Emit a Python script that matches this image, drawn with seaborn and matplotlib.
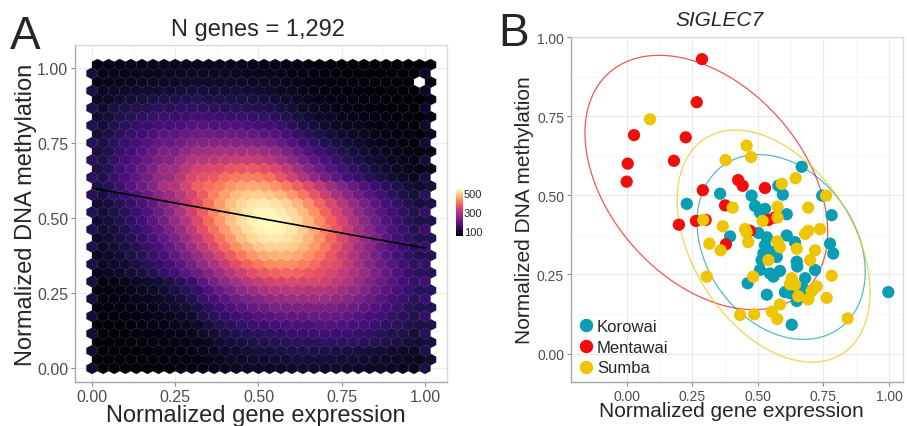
import numpy as np
import pandas as pd
import matplotlib
matplotlib.use("Agg")
import matplotlib.pyplot as plt
import seaborn as sns

sns.set_theme(style="whitegrid")
plt.rcParams['font.family'] = ['Liberation Sans', 'DejaVu Sans']

# ---- panel A: counts per hexagon, bottom row first (31 hexes per row) ----
hex_rows = [
    [86,47,49,50,50,52,54,56,58,59,63,67,71,75,78,80,82,84,85,86,87,87,86,85,83,81,79,77,74,71,104],
    [48,49,50,51,53,55,57,59,61,63,68,74,79,83,86,89,92,94,96,96,96,96,94,92,89,86,83,80,77,73,90],
    [89,47,48,49,51,54,55,58,60,62,70,78,84,89,94,98,101,104,106,108,108,107,105,103,100,96,92,87,83,79,111],
    [55,48,50,52,54,57,59,62,65,69,79,89,97,102,108,112,117,120,122,123,128,130,129,128,124,118,112,105,99,93,105],
    [91,49,51,54,55,58,60,65,68,72,85,95,105,112,119,126,132,136,139,141,147,149,147,146,141,133,125,117,109,101,125],
    [58,52,54,56,59,62,66,71,77,83,100,113,124,133,142,150,157,162,164,164,170,170,165,160,153,143,132,122,113,104,112],
    [94,53,55,58,60,65,69,75,81,88,108,123,136,148,160,171,180,186,190,191,197,199,194,188,177,163,151,137,125,115,134],
    [62,55,58,62,66,71,77,85,94,104,128,148,165,180,193,205,215,221,223,221,226,221,212,203,190,173,155,140,127,115,120],
    [98,56,59,63,68,73,81,89,99,111,140,163,182,201,219,236,248,255,259,258,265,261,250,237,220,199,178,159,143,127,145],
    [66,60,64,69,76,83,93,105,118,134,170,198,223,246,264,281,293,298,298,292,294,285,268,251,229,205,181,159,140,125,128],
    [102,60,65,71,77,86,96,109,124,143,184,216,245,270,295,315,331,339,342,336,338,328,309,288,263,232,205,179,156,137,150],
    [71,77,83,92,103,117,133,154,178,203,235,264,295,324,350,369,380,385,380,366,355,335,310,285,255,225,195,168,146,127,130],
    [106,77,84,93,104,118,136,158,183,214,247,281,316,350,379,404,420,427,424,410,389,361,348,310,272,237,204,176,151,131,144],
    [77,84,93,105,119,138,161,188,220,255,294,333,370,404,433,454,463,463,452,430,401,366,328,289,252,216,184,158,135,117,123],
    [112,83,93,105,119,139,162,190,224,262,303,347,388,427,459,485,499,501,491,469,438,401,360,318,275,237,201,172,146,125,144],
    [83,92,103,118,136,161,189,224,262,305,350,395,436,475,503,521,525,517,499,467,430,386,343,297,255,217,184,156,133,115,121],
    [116,90,101,116,134,158,186,221,259,303,350,395,439,481,513,533,541,537,521,493,454,408,362,316,272,233,195,167,141,121,141],
    [88,97,112,130,152,180,213,252,294,341,388,433,477,511,533,545,543,529,505,467,423,377,331,284,243,205,173,147,126,109,116],
    [120,95,108,124,146,171,202,240,280,326,372,418,459,497,523,537,539,527,505,471,430,383,338,292,250,212,179,152,130,112,134],
    [92,103,118,138,162,190,226,264,306,353,397,438,475,505,521,525,517,497,467,428,384,340,295,254,216,183,155,133,115,101,109],
    [125,102,128,147,173,201,237,262,295,333,373,412,444,473,489,493,485,465,436,402,362,321,279,241,205,176,149,128,111,98,123],
    [107,120,150,174,203,236,278,293,334,377,395,408,433,448,454,448,433,408,377,343,304,266,232,198,170,146,126,110,97,87,99],
    [127,113,140,161,187,217,251,265,301,338,356,368,390,405,410,407,395,363,328,286,247,213,186,160,139,119,104,91,82,73,100],
    [107,120,149,169,196,223,257,267,297,329,340,345,359,365,364,354,338,306,272,234,203,173,150,131,114,99,88,79,71,65,80],
    [125,111,136,154,175,199,226,234,262,286,296,300,313,319,319,312,299,272,243,212,184,158,139,122,108,95,85,77,70,65,95],
    [103,114,139,156,175,198,221,226,248,267,270,275,274,275,270,260,247,222,196,170,148,128,114,101,90,82,74,68,63,59,76],
    [122,105,126,140,155,173,192,194,210,227,230,235,234,236,232,225,214,194,173,152,132,116,105,94,86,77,71,66,61,58,90],
    [97,106,126,138,152,167,182,182,195,205,204,199,201,199,193,185,175,159,141,123,109,97,88,81,74,68,64,60,57,54,72],
    [116,97,114,124,134,145,157,155,165,175,173,169,170,169,166,160,152,139,125,111,99,88,82,76,71,65,61,59,56,54,85],
    [88,96,112,120,128,138,146,142,150,154,150,145,144,142,138,133,126,114,104,93,84,77,71,67,63,60,57,54,53,50,70],
    [111,88,101,107,114,121,128,123,129,132,128,125,124,122,120,116,111,103,94,86,77,71,67,64,60,58,55,53,51,49,82],
    [78,82,90,95,99,105,109,112,116,118,112,108,107,105,103,99,95,89,82,75,66,64,60,58,56,54,52,50,48,47,68],
    [105,76,80,83,86,89,92,95,97,99,98,96,95,94,92,89,86,81,76,70,63,60,58,56,54,52,50,48,48,46,80],
    [68,71,73,76,78,80,82,84,85,86,86,85,85,83,82,80,77,75,70,66,61,59,58,56,54,52,50,50,49,0,66],
    [100,67,68,70,72,74,76,77,78,79,79,79,78,77,76,74,72,70,66,63,59,57,55,54,52,50,50,49,48,47,80],
    [64,65,67,68,69,70,71,72,73,73,73,72,72,71,69,68,67,66,62,59,55,53,52,50,50,49,48,47,46,46,64],
]
fit_intercept = 0.60
fit_slope = -0.20
n_genes = "1,292"

# ---- panel B: SIGLEC7, normalized expression vs methylation ----
korowai_x = [0.489,0.527,0.610,0.781,0.394,0.502,0.534,0.527,0.521,0.514,0.553,0.572,0.610,0.641,
             0.775,0.787,0.648,0.650,0.508,0.546,0.584,0.559,0.718,0.680,0.461,0.534,0.603,0.622,
             0.648,0.673,0.997,0.629,0.667,0.356,0.476,0.578,0.595,0.745,0.229,0.508]
korowai_y = [0.466,0.457,0.440,0.437,0.370,0.381,0.367,0.342,0.316,0.295,0.321,0.305,0.373,0.352,
             0.347,0.316,0.290,0.275,0.264,0.253,0.261,0.243,0.264,0.238,0.222,0.186,0.194,0.191,
             0.166,0.205,0.194,0.091,0.590,0.505,0.499,0.530,0.502,0.499,0.473,0.445]
mentawai_x = [0.287,0.028,0.004,0.000,0.225,0.180,0.267,0.290,0.425,0.442,0.527,0.199,0.264,0.301,
              0.375,0.540,0.378,0.470,0.565]
mentawai_y = [0.930,0.690,0.600,0.543,0.683,0.609,0.794,0.516,0.548,0.530,0.523,0.407,0.419,0.422,
              0.468,0.422,0.345,0.388,0.430]
sumba_x = [0.404,0.575,0.575,0.518,0.692,0.366,0.451,0.457,0.463,0.315,0.358,0.574,0.584,0.680,
           0.692,0.737,0.648,0.718,0.699,0.540,0.305,0.482,0.629,0.622,0.641,0.781,0.724,0.705,
           0.692,0.762,0.584,0.654,0.432,0.486,0.553,0.574,0.842,0.457,0.474,0.377,0.644,0.591,
           0.760,0.292,0.089]
sumba_y = [0.461,0.464,0.430,0.419,0.461,0.402,0.393,0.383,0.352,0.347,0.326,0.354,0.336,0.378,
           0.388,0.393,0.331,0.326,0.295,0.295,0.243,0.243,0.238,0.219,0.217,0.246,0.212,0.197,
           0.171,0.176,0.155,0.181,0.122,0.124,0.132,0.109,0.111,0.657,0.621,0.611,0.554,0.536,
           0.499,0.422,0.740]
groups = ["Korowai", "Mentawai", "Sumba"]
group_colors = {"Korowai": "#0A9DB4", "Mentawai": "#F20D0D", "Sumba": "#EDC500"}
ellipse_scale = {"Korowai": 2.45, "Mentawai": 2.67, "Sumba": 2.35}

df_b = pd.concat([
    pd.DataFrame({"expr": korowai_x, "meth": korowai_y, "pop": "Korowai"}),
    pd.DataFrame({"expr": mentawai_x, "meth": mentawai_y, "pop": "Mentawai"}),
    pd.DataFrame({"expr": sumba_x, "meth": sumba_y, "pop": "Sumba"}),
], ignore_index=True)

# hex lattice (30 bins over 0..1)
hex_w = 1.0 / 30
row_h = hex_w * np.sqrt(3) / 2
hx, hy, hc = [], [], []
for k, row in enumerate(hex_rows):
    off = 0.5 if k % 2 else 0.0
    for i, c in enumerate(row):
        if c > 0:
            hx.append((i + off) * hex_w)
            hy.append(k * row_h)
            hc.append(c)

fig = plt.figure(figsize=(9.07, 4.27), dpi=100)
axA = fig.add_axes([0.0827, 0.1030, 0.4101, 0.7892])
axB = fig.add_axes([0.6296, 0.1030, 0.3660, 0.8080])
cax = fig.add_axes([0.5028, 0.4457, 0.0072, 0.1094])

ticks = [0, 0.25, 0.5, 0.75, 1.0]
for ax, tsize in ((axA, 11.5), (axB, 10)):
    ax.set_facecolor("white")
    ax.set_xticks(ticks)
    ax.set_yticks(ticks)
    ax.set_xticklabels(["%.2f" % t for t in ticks])
    ax.set_yticklabels(["%.2f" % t for t in ticks])
    ax.set_xticks([0.125, 0.375, 0.625, 0.875], minor=True)
    ax.set_yticks([0.125, 0.375, 0.625, 0.875], minor=True)
    ax.grid(which="major", color="#EBEBEB", lw=0.8)
    ax.grid(which="minor", color="#F4F4F4", lw=0.5)
    ax.set_axisbelow(True)
    ax.tick_params(which="major", labelsize=tsize, labelcolor="#4D4D4D", color="#8C8C8C",
                   length=3, width=0.8, pad=2, bottom=True, left=True)
    ax.tick_params(which="minor", length=0)
    for s in ("top", "right"):
        ax.spines[s].set_color("#D9D9D9")
        ax.spines[s].set_linewidth(1.0)
    for s in ("left", "bottom"):
        ax.spines[s].set_color("#A6A6A6")
        ax.spines[s].set_linewidth(1.0)

# ---- panel A ----
hb = axA.hexbin(hx, hy, C=hc, gridsize=(31, 18), extent=(0, 31 * hex_w, 0, 36 * row_h),
                reduce_C_function=np.sum, cmap="magma", vmin=45, vmax=545,
                linewidths=0.15, edgecolors="face")
xl = np.array([0.0, 1.0])
axA.plot(xl, fit_intercept + fit_slope * xl, color="black", lw=1.2)
axA.set_xlim(-0.051, 1.066)
axA.set_ylim(-0.046, 1.076)

cb = fig.colorbar(hb, cax=cax, ticks=[100, 300, 500])
cb.outline.set_visible(False)
cb.ax.tick_params(length=0, labelsize=8, pad=1)

# ---- panel B ----
for g in groups:
    d = df_b[df_b["pop"] == g]
    pts = d[["expr", "meth"]].to_numpy()
    mu = pts.mean(axis=0)
    L = np.linalg.cholesky(np.cov(pts.T))
    t = np.linspace(0, 2 * np.pi, 200)
    circ = np.vstack([np.cos(t), np.sin(t)]) * ellipse_scale[g]
    ell = (L @ circ).T + mu
    axB.plot(ell[:, 0], ell[:, 1], color=group_colors[g], lw=0.9, alpha=0.7, zorder=2)

sns.scatterplot(data=df_b, x="expr", y="meth", hue="pop", palette=group_colors,
                s=78, linewidth=0, alpha=1, ax=axB, zorder=3)
axB.set_xlim(-0.212, 1.053)
axB.set_ylim(-0.09, 1.0)
axB.set_xlabel("")
axB.set_ylabel("")
axB.legend(loc="lower left", frameon=False, fontsize=12, handlelength=1.0, handletextpad=0.15,
           labelspacing=0.35, borderaxespad=0.1, borderpad=0.3, markerscale=1.1)

# ---- text ----
fig.text(0.0110, 0.965, "A", fontsize=33, va="top", ha="left")
fig.text(0.5490, 0.972, "B", fontsize=33, va="top", ha="left")
fig.text(258 / 907, 1 - 30 / 427, "N genes = " + n_genes, fontsize=17, ha="center", va="center")
fig.text(719 / 907, 1 - 20 / 427, "SIGLEC7", fontsize=15, style="italic", ha="center", va="center")
fig.text(256 / 907, 1 - 416 / 427, "Normalized gene expression", fontsize=17,
         ha="center", va="center")
fig.text(731 / 907, 1 - 412 / 427, "Normalized gene expression", fontsize=15,
         ha="center", va="center")
fig.text(26 / 907, 1 - 215 / 427, "Normalized DNA methylation", fontsize=17, rotation=90,
         ha="center", va="center")
fig.text(524 / 907, 1 - 210 / 427, "Normalized DNA methylation", fontsize=15, rotation=90,
         ha="center", va="center")

fig.savefig("out.png", dpi=100)
